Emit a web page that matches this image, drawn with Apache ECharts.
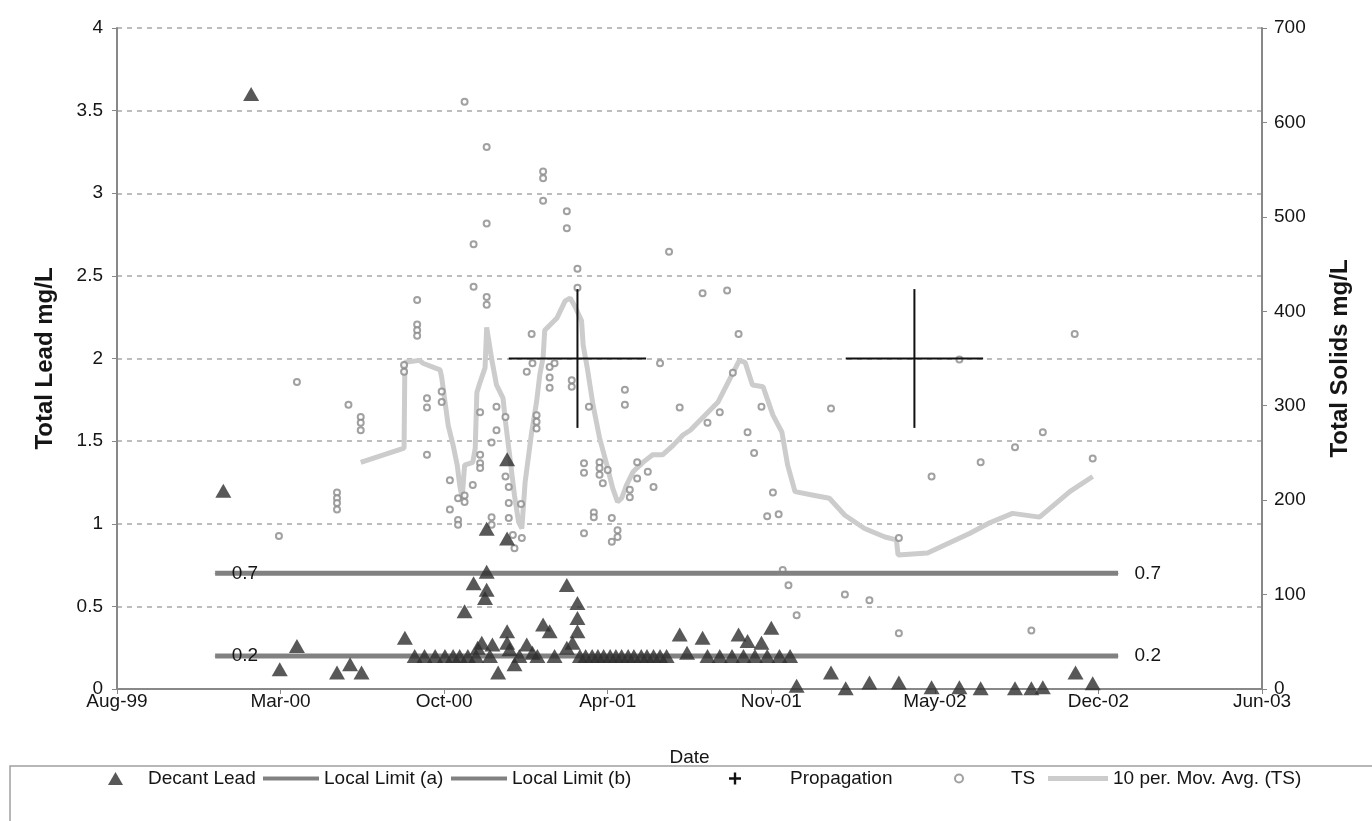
<!DOCTYPE html>
<html>
<head>
<meta charset="utf-8">
<title>Decant Lead and Total Solids</title>
<script src="https://cdn.jsdelivr.net/npm/echarts/dist/echarts.min.js"></script>
<style>
  html, body { margin: 0; padding: 0; background: #fff; }
  #chart { width: 1372px; height: 821px; }
</style>
</head>
<body>
<div id="chart"></div>
<script>
// Decant Lead (mg/L, left axis)
const leadDates = [
  '2000-01-07', '2000-02-10', '2000-03-16', '2000-04-06', '2000-05-25', '2000-06-10', '2000-06-24',
  '2000-08-16', '2000-08-28', '2000-09-09', '2000-09-22', '2000-10-04', '2000-10-14', '2000-10-22',
  '2000-10-28', '2000-11-01', '2000-11-08', '2000-11-11', '2000-11-13', '2000-11-18', '2000-11-22',
  '2000-11-24', '2000-11-24', '2000-11-24', '2000-11-28', '2000-12-01', '2000-12-08', '2000-12-19',
  '2000-12-19', '2000-12-19', '2000-12-19', '2000-12-22', '2000-12-28', '2001-01-03', '2001-01-12',
  '2001-01-19', '2001-01-25', '2001-02-01', '2001-02-09', '2001-02-15', '2001-03-02', '2001-03-02',
  '2001-03-09', '2001-03-15', '2001-03-15', '2001-03-15',
  '2001-03-18', '2001-03-25', '2001-04-02', '2001-04-09', '2001-04-16', '2001-04-24', '2001-05-01',
  '2001-05-08', '2001-05-16', '2001-05-23', '2001-06-01', '2001-06-08', '2001-06-16', '2001-06-24',
  '2001-07-02', '2001-07-18', '2001-07-27', '2001-08-15',
  '2001-08-21', '2001-09-05', '2001-09-20', '2001-10-04', '2001-10-18', '2001-11-02', '2001-11-17',
  '2001-11-30', '2001-09-28', '2001-10-09', '2001-10-26', '2001-11-07',
  '2001-12-08', '2002-01-19', '2002-02-06', '2002-03-07', '2002-04-12', '2002-05-22', '2002-06-25',
  '2002-07-21', '2002-09-01', '2002-09-21', '2002-10-05', '2002-11-14', '2002-12-05'
];
const leadValues = [
  1.2, 3.6, 0.12, 0.26, 0.1, 0.15, 0.1,
  0.31, 0.2, 0.2, 0.2, 0.2, 0.2, 0.2,
  0.47, 0.2, 0.64, 0.2, 0.25, 0.28, 0.55,
  0.71, 0.6, 0.97, 0.2, 0.27, 0.1, 1.39,
  0.91, 0.35, 0.28, 0.24, 0.15, 0.2, 0.27,
  0.22, 0.2, 0.39, 0.35, 0.2, 0.63, 0.25,
  0.28, 0.52, 0.43, 0.35,
  0.2, 0.2, 0.2, 0.2, 0.2, 0.2, 0.2,
  0.2, 0.2, 0.2, 0.2, 0.2, 0.2, 0.2,
  0.2, 0.33, 0.22, 0.31,
  0.2, 0.2, 0.2, 0.2, 0.2, 0.2, 0.2,
  0.2, 0.33, 0.29, 0.28, 0.37,
  0.02, 0.1, 0.005, 0.04, 0.04, 0.01, 0.01,
  0.005, 0.005, 0.005, 0.01, 0.1, 0.035
];

// Total Solids (mg/L, right axis)
const tsDates = [
  '2000-03-15', '2000-04-06', '2000-05-25', '2000-05-25', '2000-05-25', '2000-05-25', '2000-06-08',
  '2000-06-23', '2000-06-23', '2000-06-23', '2000-08-15', '2000-08-15', '2000-08-31', '2000-08-31',
  '2000-08-31', '2000-08-31', '2000-09-12', '2000-09-12', '2000-09-12', '2000-09-30', '2000-09-30',
  '2000-10-10', '2000-10-10', '2000-10-20', '2000-10-20', '2000-10-20', '2000-10-28', '2000-10-28',
  '2000-10-28', '2000-11-07', '2000-11-08', '2000-11-08', '2000-11-16', '2000-11-16', '2000-11-16',
  '2000-11-16', '2000-11-24', '2000-11-24', '2000-11-24', '2000-11-24', '2000-11-30', '2000-11-30',
  '2000-11-30', '2000-12-06', '2000-12-06', '2000-12-17', '2000-12-17', '2000-12-21', '2000-12-21',
  '2000-12-21', '2000-12-26', '2000-12-28', '2001-01-05', '2001-01-06', '2001-01-12', '2001-01-18',
  '2001-01-19', '2001-01-24', '2001-01-24', '2001-01-24', '2001-02-01', '2001-02-01', '2001-02-01',
  '2001-02-09', '2001-02-09', '2001-02-09', '2001-02-15', '2001-03-02', '2001-03-02', '2001-03-08',
  '2001-03-08', '2001-03-15', '2001-03-15', '2001-03-23', '2001-03-23', '2001-03-23', '2001-03-29',
  '2001-04-04', '2001-04-04', '2001-04-11', '2001-04-11', '2001-04-11', '2001-04-15', '2001-04-21',
  '2001-04-26', '2001-04-26', '2001-05-03', '2001-05-03', '2001-05-12', '2001-05-12', '2001-05-18',
  '2001-05-18', '2001-05-27', '2001-05-27', '2001-06-09', '2001-06-16', '2001-06-24', '2001-07-05',
  '2001-07-18', '2001-08-15', '2001-08-21', '2001-09-05', '2001-09-14', '2001-09-21', '2001-09-28',
  '2001-10-09', '2001-10-17', '2001-10-26', '2001-11-02', '2001-11-09', '2001-11-16', '2001-11-21',
  '2001-11-28', '2001-12-08', '2002-01-19', '2002-02-05', '2002-03-07', '2002-04-12', '2002-04-12',
  '2002-05-22', '2002-06-25', '2002-07-21', '2002-09-01', '2002-09-21', '2002-10-05', '2002-11-13',
  '2002-12-05'
];
const tsValues = [
  162, 325, 208, 202, 197, 190, 301,
  288, 282, 274, 343, 336, 412, 386,
  380, 374, 308, 298, 248, 315, 304,
  221, 190, 202, 179, 174, 622, 205,
  198, 216, 471, 426, 293, 248, 239,
  234, 574, 493, 415, 407, 261, 182,
  174, 299, 274, 288, 225, 214, 197,
  181, 163, 149, 196, 160, 336, 376,
  345, 290, 283, 276, 548, 541, 517,
  341, 330, 319, 345, 506, 488, 327,
  320, 445, 425, 239, 229, 165, 299,
  187, 182, 240, 234, 227, 218, 232,
  181, 156, 168, 161, 317, 301, 211,
  203, 240, 223, 230, 214, 345, 463,
  298, 419, 282, 293, 422, 335, 376,
  272, 250, 299, 183, 208, 185, 126,
  110, 78, 297, 100, 94, 160, 59,
  225, 349, 240, 256, 62, 272, 376,
  244
];

// 10 per. Mov. Avg. (TS)
const maDates = [
  '2000-06-23', '2000-08-15', '2000-08-16', '2000-09-03', '2000-09-07', '2000-09-28', '2000-09-30',
  '2000-10-08', '2000-10-14', '2000-10-19', '2000-10-22', '2000-10-25', '2000-10-28', '2000-11-07',
  '2000-11-10', '2000-11-12', '2000-11-16', '2000-11-22', '2000-11-24', '2000-11-30', '2000-12-06',
  '2000-12-14', '2000-12-17', '2000-12-22', '2000-12-28', '2001-01-02', '2001-01-06', '2001-01-10',
  '2001-01-18', '2001-01-24', '2001-01-28', '2001-02-01', '2001-02-03', '2001-02-18', '2001-02-28',
  '2001-03-06', '2001-03-12', '2001-03-20', '2001-03-22', '2001-03-27', '2001-04-03', '2001-04-11',
  '2001-04-20', '2001-04-27', '2001-05-03', '2001-05-08', '2001-05-14', '2001-05-22', '2001-06-03',
  '2001-06-15', '2001-06-27', '2001-07-10', '2001-07-22', '2001-07-31', '2001-08-18', '2001-09-03',
  '2001-09-20', '2001-09-29', '2001-10-06', '2001-10-15', '2001-10-28', '2001-11-09', '2001-11-20',
  '2001-11-27', '2001-12-06', '2001-12-30', '2002-01-17', '2002-02-05', '2002-03-01', '2002-03-26',
  '2002-04-09', '2002-04-11', '2002-05-17', '2002-07-08', '2002-08-01', '2002-08-29', '2002-10-01',
  '2002-11-07', '2002-12-05'
];
const maValues = [
  240, 255, 346, 348, 345, 338, 330,
  279, 258, 237, 216, 202, 237, 240,
  255, 314, 325, 340, 383, 350, 322,
  308, 283, 248, 205, 177, 170, 219,
  272, 304, 333, 351, 380, 393, 411,
  414, 405, 390, 364, 340, 301, 266,
  237, 213, 198, 202, 216, 230, 240,
  248, 248, 258, 269, 274, 290, 304,
  333, 348, 346, 322, 320, 290, 272,
  237, 209, 205, 202, 184, 170, 161,
  158, 142, 144, 165, 176, 186, 182,
  209, 225
];

// local limits and propagation crosses
const limitDates = ['1999-12-28', '2003-01-05'];
const limitA = 0.7;
const limitB = 0.2;
const propDates = ['2001-03-15', '2002-05-01'];
const propValues = [2.0, 2.0];
const propDateErr = [84, 84];
const propValueErr = [0.42, 0.42];

// x axis ticks: every 200 days from 30-Aug-1999
const axisStart = '1999-08-30';
const axisSpan = 1400;
const tickStep = 200;
const monthNames = ['Jan', 'Feb', 'Mar', 'Apr', 'May', 'Jun', 'Jul', 'Aug', 'Sep', 'Oct', 'Nov', 'Dec'];

const DAY = 86400000;
function utc(s) {
  const p = s.split('-').map(Number);
  return Date.UTC(p[0], p[1] - 1, p[2]);
}
const origin = utc(axisStart);
function toDay(s) {
  return (utc(s) - origin) / DAY;
}
function dayLabel(v) {
  const d = new Date(origin + v * DAY);
  return monthNames[d.getUTCMonth()] + '-' + String(d.getUTCFullYear()).slice(2);
}
function pairs(dates, values) {
  return dates.map((d, i) => [toDay(d), values[i]]);
}

const FONT = 'Liberation Sans, Arial, sans-serif';
const TXT = '#151515';

function limitSeries(name, v) {
  return {
    name: name,
    type: 'line',
    yAxisIndex: 0,
    symbol: 'circle',
    symbolSize: 1,
    color: '#818181',
    lineStyle: { color: '#818181', width: 5 },
    label: {
      show: true, position: 'right', distance: 16,
      color: TXT, fontFamily: FONT, fontSize: 19,
      formatter: p => p.value[1]
    },
    data: limitDates.map(d => [toDay(d), v]),
    z: 3
  };
}

const chart = echarts.init(document.getElementById('chart'));

function legendItem(left, name, extra) {
  return Object.assign({
    top: 769, left: left, padding: 0, itemGap: 0, data: [name],
    textStyle: { color: TXT, fontFamily: FONT, fontSize: 19 }
  }, extra);
}

chart.setOption({
  animation: false,
  backgroundColor: '#fff',
  grid: { left: 117, right: 110, top: 28, bottom: 132, containLabel: false },
  xAxis: {
    type: 'value',
    min: 0, max: axisSpan, interval: tickStep,
    name: 'Date', nameLocation: 'middle', nameGap: 59,
    nameTextStyle: { color: TXT, fontFamily: FONT, fontSize: 19 },
    axisLine: { lineStyle: { color: '#888', width: 2 } },
    axisTick: { show: true, length: 5, lineStyle: { color: '#888' } },
    axisLabel: { color: TXT, fontFamily: FONT, fontSize: 19, margin: 3, formatter: dayLabel },
    splitLine: { show: false }
  },
  yAxis: [
    {
      type: 'value', min: 0, max: 4, interval: 0.5, position: 'left',
      name: 'Total Lead mg/L', nameLocation: 'middle', nameGap: 60, nameRotate: 90,
      nameTextStyle: { color: TXT, fontFamily: FONT, fontSize: 24, fontWeight: 'bold' },
      axisLine: { show: true, lineStyle: { color: '#888', width: 2 } },
      axisTick: { show: true, length: 5, lineStyle: { color: '#888' } },
      axisLabel: { color: TXT, fontFamily: FONT, fontSize: 19, margin: 14 },
      splitLine: { show: true, lineStyle: { color: '#a8a8a8', width: 1.5, type: [5, 5] } }
    },
    {
      type: 'value', min: 0, max: 700, interval: 100, position: 'right',
      name: 'Total Solids mg/L', nameLocation: 'middle', nameGap: 66, nameRotate: 90,
      nameTextStyle: { color: TXT, fontFamily: FONT, fontSize: 24, fontWeight: 'bold' },
      axisLine: { show: true, lineStyle: { color: '#888', width: 2 } },
      axisTick: { show: true, length: 5, lineStyle: { color: '#888' } },
      axisLabel: { color: TXT, fontFamily: FONT, fontSize: 19, margin: 12 },
      splitLine: { show: false }
    }
  ],
  legend: [
    legendItem(108, 'Decant Lead', { icon: 'triangle', itemWidth: 15, itemHeight: 13,
      textStyle: { color: TXT, fontFamily: FONT, fontSize: 19, padding: [0, 0, 0, 20] } }),
    legendItem(263, 'Local Limit (a)', { icon: 'rect', itemWidth: 56, itemHeight: 4 }),
    legendItem(451, 'Local Limit (b)', { icon: 'rect', itemWidth: 56, itemHeight: 4 }),
    legendItem(729, 'Propagation', { icon: 'path://M4,0h2v4h4v2h-4v4h-2v-4h-4v-2h4z', itemWidth: 12, itemHeight: 12,
      textStyle: { color: TXT, fontFamily: FONT, fontSize: 19, padding: [0, 0, 0, 44] } }),
    legendItem(954, 'TS', { icon: 'emptyCircle', itemWidth: 8, itemHeight: 8,
      textStyle: { color: TXT, fontFamily: FONT, fontSize: 19, padding: [0, 0, 0, 43] } }),
    legendItem(1048, '10 per. Mov. Avg. (TS)', { icon: 'rect', itemWidth: 60, itemHeight: 5 })
  ],
  graphic: [{
    type: 'rect', silent: true,
    shape: { x: 10, y: 766, width: 1400, height: 100 },
    style: { fill: 'none', stroke: '#a0a0a0', lineWidth: 1.5 }
  }],
  series: [
    {
      name: '10 per. Mov. Avg. (TS)',
      type: 'line', yAxisIndex: 1,
      showSymbol: false, symbol: 'none',
      color: '#cccccc',
      lineStyle: { color: '#cccccc', width: 5 },
      data: pairs(maDates, maValues),
      z: 1
    },
    {
      name: 'TS',
      type: 'scatter', yAxisIndex: 1,
      symbol: 'emptyCircle', symbolSize: 6,
      itemStyle: { color: '#8a8a8a', borderWidth: 1 },
      data: pairs(tsDates, tsValues),
      z: 2
    },
    limitSeries('Local Limit (a)', limitA),
    limitSeries('Local Limit (b)', limitB),
    {
      name: 'Propagation',
      type: 'custom', yAxisIndex: 0,
      color: '#111',
      encode: { x: 0, y: 1 },
      data: propDates.map((d, i) => [toDay(d), propValues[i], propDateErr[i], propValueErr[i]]),
      renderItem: function (params, api) {
        const x = api.value(0), y = api.value(1), ex = api.value(2), ey = api.value(3);
        const l = api.coord([x - ex, y]), r = api.coord([x + ex, y]);
        const t = api.coord([x, y + ey]), b = api.coord([x, y - ey]);
        const style = { stroke: '#111', lineWidth: 2 };
        return {
          type: 'group',
          children: [
            { type: 'line', shape: { x1: l[0], y1: l[1], x2: r[0], y2: r[1] }, style: style },
            { type: 'line', shape: { x1: t[0], y1: t[1], x2: b[0], y2: b[1] }, style: style }
          ]
        };
      },
      z: 4
    },
    {
      name: 'Decant Lead',
      type: 'scatter', yAxisIndex: 0,
      symbol: 'triangle', symbolSize: [16, 14],
      itemStyle: { color: '#2e2e2e' },
      data: pairs(leadDates, leadValues),
      z: 5
    }
  ]
});
</script>
</body>
</html>
